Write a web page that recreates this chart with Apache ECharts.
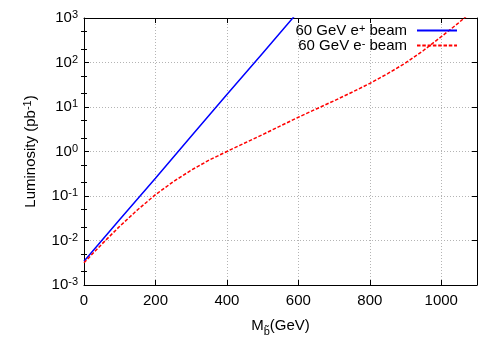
<!DOCTYPE html>
<html><head><meta charset="utf-8">
<script src="https://cdn.jsdelivr.net/npm/echarts@6/dist/echarts.min.js"></script>
<style>html,body{margin:0;padding:0;background:#fff}#c{width:500px;height:350px}</style>
</head><body><div id="c"></div>
<script>
// ---- data ----
const positronMass = [0, 100, 200, 300, 400, 500, 600];
const positronLumi = [0.0034, 0.0295, 0.25, 2.2, 19, 162, 1400];
const electronMass = [0, 50, 100, 150, 200, 250, 300, 350, 400, 450, 500, 550, 600, 650, 700, 750, 800, 850, 900, 950, 1000, 1050, 1100];
const electronLumi = [0.00316, 0.00832, 0.0209, 0.0490, 0.107, 0.210, 0.380, 0.640, 1.00, 1.55, 2.40, 3.76, 5.89, 9.02, 13.8, 21.4, 33.9, 56.2, 97.7, 186, 380, 794, 1778];
const xTicks = [0, 200, 400, 600, 800, 1000];
const yMinorMult = [2, 5];
const yDecades = [-3, -2, -1, 0, 1, 2];
const seriesNames = ['60 GeV e+ beam', '60 GeV e- beam'];

const FONT = 'Liberation Sans';
const FS = 15;
const minorLog = [];
yDecades.forEach(d => yMinorMult.forEach(m => minorLog.push(d + Math.log10(m))));

const chart = echarts.init(document.getElementById('c'), null, {renderer: 'canvas'});
const axisLineStyle = {color: '#000', width: 1};
const supRich = {
  b: {fontSize: FS, fontFamily: FONT, color: '#000', lineHeight: 17},
  s: {fontSize: 11, fontFamily: FONT, color: '#000', verticalAlign: 'top', lineHeight: 11}
};
function pairs(xs, ys) { return xs.map((x, i) => [x, ys[i]]); }

const option = {
  animation: false,
  backgroundColor: '#fff',
  grid: {left: 84, right: 23, top: 18, bottom: 65, containLabel: false},
  legend: {
    orient: 'vertical', right: 37, top: 18, align: 'right',
    itemWidth: 40, itemHeight: 13, itemGap: 0,
    data: seriesNames,
    itemStyle: {color: 'transparent', borderWidth: 0, opacity: 0},
    formatter: function (name) {
      const sign = name.indexOf('e+') >= 0 ? '+' : '-';
      return '{b|60 GeV e}{s|' + sign + '}{b| beam}';
    },
    textStyle: {rich: {
      b: {fontSize: FS, fontFamily: FONT, color: '#000', lineHeight: 13.3},
      s: {fontSize: 11, fontFamily: FONT, color: '#000', verticalAlign: 'top', lineHeight: 8}
    }, padding: [0, 5, 0, 0]}
  },
  xAxis: [{
    type: 'value', min: 0, max: 1100, position: 'bottom',
    name: '{b|M}{sub|b\u0303}{b|(GeV)}', nameLocation: 'middle', nameGap: 32,
    nameTextStyle: {rich: {
      b: {fontSize: FS, fontFamily: FONT, color: '#000', lineHeight: 17},
      sub: {fontSize: 11, fontFamily: FONT, color: '#000', verticalAlign: 'bottom', lineHeight: 11, padding: [0, 0, -3, 0]}
    }},
    axisLine: {show: true, onZero: false, lineStyle: axisLineStyle},
    axisTick: {show: true, inside: true, length: 5, customValues: xTicks, lineStyle: axisLineStyle},
    axisLabel: {customValues: xTicks, margin: 8, fontSize: FS, fontFamily: FONT, color: '#000',
      formatter: function (v) { return String(v); }},
    splitLine: {show: true, lineStyle: {color: '#b4b4b4', type: [1, 2], width: 1}}
  }, {
    type: 'value', min: 0, max: 1100, position: 'top',
    axisLine: {show: true, onZero: false, lineStyle: axisLineStyle},
    axisTick: {show: true, inside: true, length: 5, customValues: xTicks, lineStyle: axisLineStyle},
    axisLabel: {show: false}, splitLine: {show: false}
  }],
  yAxis: [{
    type: 'log', logBase: 10, min: 0.001, max: 1000, splitNumber: 6, position: 'left',
    name: '{b|Luminosity (pb}{s|-1}{b|)}', nameLocation: 'middle', nameGap: 45,
    nameTextStyle: {rich: supRich},
    axisLine: {show: true, onZero: false, lineStyle: axisLineStyle},
    axisTick: {show: true, inside: true, length: 5, lineStyle: axisLineStyle},
    axisLabel: {margin: 6, formatter: function (v) {
      const e = Math.round(Math.log10(v));
      return '{b|10}{s|' + e + '}';
    }, rich: supRich},
    splitLine: {show: true, lineStyle: {color: '#b4b4b4', type: [1, 2], width: 1}}
  }, {
    type: 'log', logBase: 10, min: 0.001, max: 1000, splitNumber: 6, position: 'right',
    axisLine: {show: true, onZero: false, lineStyle: axisLineStyle},
    axisTick: {show: true, inside: true, length: 5, lineStyle: axisLineStyle},
    axisLabel: {show: false}, splitLine: {show: false}
  }, {
    type: 'value', min: -3, max: 3, position: 'left',
    axisLine: {show: false},
    axisTick: {show: true, inside: true, length: 3, customValues: minorLog, lineStyle: axisLineStyle},
    axisLabel: {show: false}, splitLine: {show: false}
  }, {
    type: 'value', min: -3, max: 3, position: 'right',
    axisLine: {show: false},
    axisTick: {show: true, inside: true, length: 3, customValues: minorLog, lineStyle: axisLineStyle},
    axisLabel: {show: false}, splitLine: {show: false}
  }],
  series: [{
    name: seriesNames[0], type: 'line', xAxisIndex: 0, yAxisIndex: 0,
    data: pairs(positronMass, positronLumi), symbol: 'none', clip: true,
    lineStyle: {color: '#0000ff', width: 1.5}, itemStyle: {color: '#0000ff'}
  }, {
    name: seriesNames[1], type: 'line', xAxisIndex: 0, yAxisIndex: 0,
    data: pairs(electronMass, electronLumi), symbol: 'none', clip: true,
    lineStyle: {color: '#ff0000', width: 1.5, type: [3.5, 1.8]}, itemStyle: {color: '#ff0000'}
  }]
};
chart.setOption(option);
</script></body></html>
